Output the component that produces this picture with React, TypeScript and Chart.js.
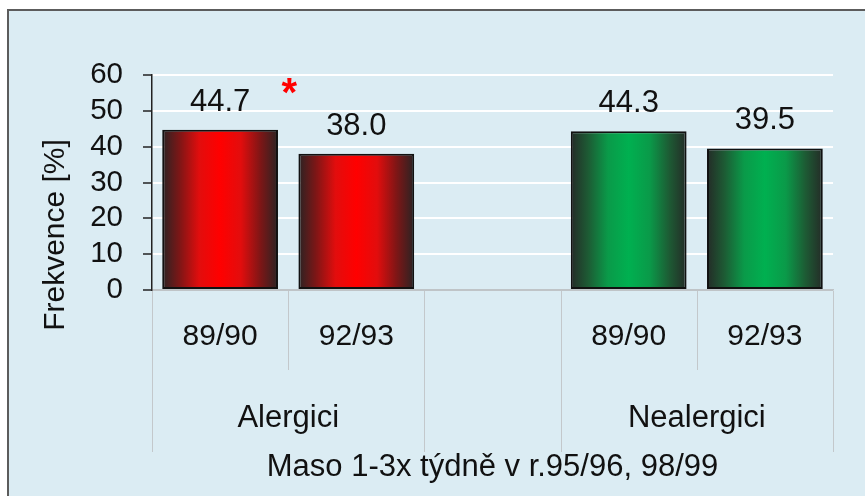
import React, { useEffect, useRef } from 'react';
import { Chart, registerables } from 'chart.js';

Chart.register(...registerables);

// ---- data ----
const periods = ['89/90', '92/93', '', '89/90', '92/93'];
const groupNames = ['Alergici', 'Nealergici'];
const groupOfPeriod = [0, 0, -1, 1, 1];
const frequency = [44.7, 38.0, null, 44.3, 39.5];
const yTicks = [0, 10, 20, 30, 40, 50, 60];
const significantPair = [0, 1];
const xTitle = 'Maso 1-3x týdně v r.95/96, 98/99';
const yTitle = 'Frekvence [%]';

// ---- style ----
const FONT = '"Liberation Sans", Arial, Helvetica, sans-serif';
const TEXT = '#111111';
const BG = '#DBECF3';
const SEP = '#C3C8CB';
const BAR_PCT = 0.85;
const palettes = [
  ['#2a2323', '#7d1616', '#e20d0d', '#ff0000'],
  ['#242b27', '#1d5b34', '#0a9a49', '#00b050'],
];

function makeGradient(ctx: CanvasRenderingContext2D, left: number, right: number, pal: string[]) {
  const g = ctx.createLinearGradient(left, 0, right, 0);
  g.addColorStop(0, pal[0]);
  g.addColorStop(0.15, pal[1]);
  g.addColorStop(0.32, pal[2]);
  g.addColorStop(0.5, pal[3]);
  g.addColorStop(0.68, pal[2]);
  g.addColorStop(0.85, pal[1]);
  g.addColorStop(1, pal[0]);
  return g;
}

const decorPlugin = {
  id: 'decor',
  afterDraw(chart: any) {
    const ctx: CanvasRenderingContext2D = chart.ctx;
    const xs = chart.scales.x;
    const ys = chart.scales.y;
    const area = chart.chartArea;
    const n = periods.length;
    const catW = (area.right - area.left) / n;

    ctx.save();
    // category separators
    ctx.strokeStyle = SEP;
    ctx.lineWidth = 1;
    for (let i = 0; i <= n; i++) {
      const xb = Math.round(area.left + i * catW) + 0.5;
      const before = i > 0 ? groupOfPeriod[i - 1] : undefined;
      const after = i < n ? groupOfPeriod[i] : undefined;
      const outer = before !== after;
      ctx.beginPath();
      ctx.moveTo(xb, area.bottom + 1);
      ctx.lineTo(xb, area.bottom + (outer ? 162 : 80));
      ctx.stroke();
    }

    // group labels
    ctx.fillStyle = TEXT;
    ctx.font = `31px ${FONT}`;
    ctx.textAlign = 'center';
    ctx.textBaseline = 'alphabetic';
    groupNames.forEach((name, gi) => {
      const idx = groupOfPeriod.map((g, i) => (g === gi ? i : -1)).filter((i) => i >= 0);
      const cx = (xs.getPixelForValue(idx[0]) + xs.getPixelForValue(idx[idx.length - 1])) / 2;
      ctx.fillText(name, cx, area.bottom + 137);
    });

    // value labels
    const meta = chart.getDatasetMeta(0);
    ctx.font = `31px ${FONT}`;
    meta.data.forEach((bar: any, i: number) => {
      const v = frequency[i];
      if (v === null || v === undefined) return;
      ctx.fillText(v.toFixed(1), bar.x, bar.y - 19);
    });

    // significance marker
    const sx = (xs.getPixelForValue(significantPair[0]) + xs.getPixelForValue(significantPair[1])) / 2;
    ctx.fillStyle = '#FF0000';
    ctx.font = `bold 40px ${FONT}`;
    ctx.fillText('*', sx + 1, ys.getPixelForValue(60) + 31);

    // y title
    ctx.fillStyle = TEXT;
    ctx.font = `30px ${FONT}`;
    ctx.translate(54.5, 224);
    ctx.rotate(-Math.PI / 2);
    ctx.textAlign = 'center';
    ctx.fillText(yTitle, 0, 0);
    ctx.restore();
  },
};

export default function App() {
  const ref = useRef<HTMLCanvasElement | null>(null);

  useEffect(() => {
    if (!ref.current) return;
    const chart = new Chart(ref.current, {
      type: 'bar',
      data: {
        labels: periods,
        datasets: [
          {
            data: frequency as any,
            backgroundColor: (c: any) => {
              const gi = groupOfPeriod[c.dataIndex];
              const xs = c.chart.scales && c.chart.scales.x;
              if (c.type !== 'data' || !xs || gi === undefined || gi < 0) return '#000000';
              const center = xs.getPixelForValue(c.dataIndex);
              const w = (xs.width / periods.length) * BAR_PCT;
              if (!isFinite(center) || !isFinite(w) || w <= 0) return '#000000';
              return makeGradient(c.chart.ctx, center - w / 2, center + w / 2, palettes[gi]);
            },
            borderColor: '#111111',
            borderWidth: 2,
            borderSkipped: false,
            barPercentage: BAR_PCT,
            categoryPercentage: 1,
          },
        ],
      },
      options: {
        animation: false,
        responsive: false,
        maintainAspectRatio: false,
        devicePixelRatio: 1,
        layout: { padding: { top: 64, right: 32, left: 0, bottom: 0 } },
        plugins: {
          legend: { display: false },
          tooltip: { enabled: false },
          title: { display: false },
        },
        scales: {
          x: {
            type: 'category',
            offset: true,
            grid: { display: false, drawTicks: false },
            border: { display: true, color: '#BFC4C7', width: 1.5 },
            ticks: {
              font: { family: FONT, size: 30 },
              color: TEXT,
              padding: 29,
              autoSkip: false,
              maxRotation: 0,
            },
            title: {
              display: true,
              text: xTitle,
              font: { family: FONT, size: 31 },
              color: TEXT,
              padding: { top: 0, bottom: 10 },
            },
            afterFit: (s: any) => {
              s.height = 206;
            },
          },
          y: {
            min: 0,
            max: 60,
            afterBuildTicks: (s: any) => {
              s.ticks = yTicks.map((v) => ({ value: v }));
            },
            grid: {
              color: (c: any) => (c.tick && c.tick.value === 0 ? '#BFC4C7' : '#FFFFFF'),
              lineWidth: 2,
              tickColor: '#222222',
              tickWidth: 1.5,
              tickLength: 9,
              drawTicks: true,
            },
            border: { display: true, color: '#222222', width: 1.5 },
            ticks: {
              font: { family: FONT, size: 29.5 },
              color: TEXT,
              padding: 20,
              autoSkip: false,
              stepSize: 10,
            },
            afterFit: (s: any) => {
              s.width = 143;
            },
          },
        },
      } as any,
      plugins: [decorPlugin],
    });
    return () => chart.destroy();
  }, []);

  return (
    <div
      style={{
        position: 'fixed',
        left: 7,
        top: 9,
        width: 858,
        height: 487,
        boxSizing: 'border-box',
        borderLeft: '2px solid #5c5c5c',
        borderTop: '2px solid #5c5c5c',
        background: BG,
        overflow: 'hidden',
      }}
    >
      <canvas ref={ref} width={856} height={485} style={{ display: 'block', width: 856, height: 485 }} />
    </div>
  );
}
